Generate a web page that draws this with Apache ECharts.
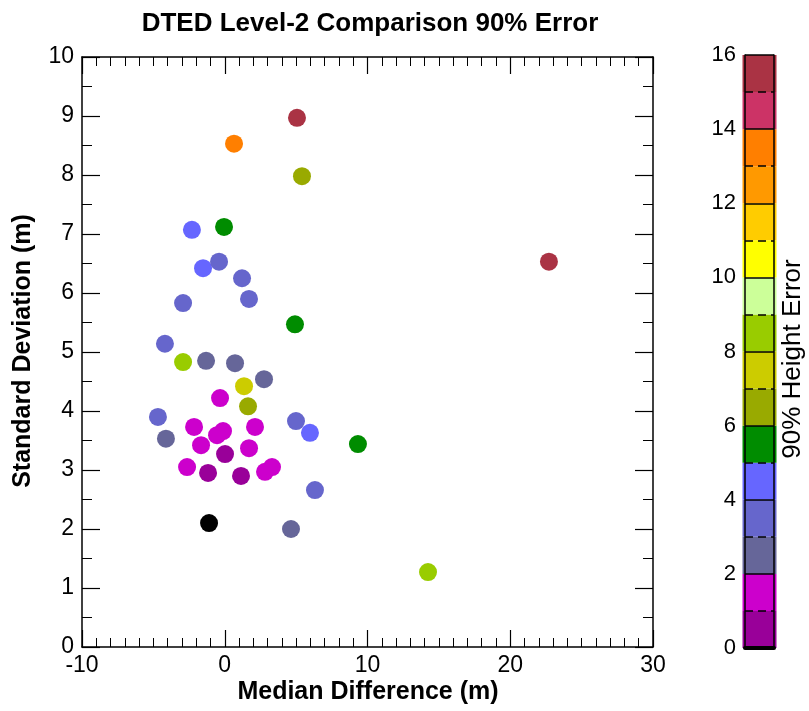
<!DOCTYPE html>
<html><head><meta charset="utf-8">
<script src="https://cdn.jsdelivr.net/npm/echarts@6/dist/echarts.min.js"></script>
<style>html,body{margin:0;padding:0;background:#fff}#c{width:809px;height:711px}</style>
</head><body><div id="c"></div>
<script>
// ---- data ----
var medianDiff = [5.06, 0.65, 5.41, -2.30, -0.05, -1.52, -0.40, 1.21, 1.70, -2.92, 4.92, -4.19, 22.71,
  -2.92, -1.31, 0.72, 1.35, 2.75, -0.33, 1.63, -4.68, -4.12, -2.15, -0.12, -0.54, 2.12, 4.99, 5.97, 9.33,
  -1.66, 0.02, 1.70, -2.64, -1.17, 1.14, 2.82, 3.31, 6.32, -1.10, 4.64, 14.24];
var stdDev = [8.97, 8.53, 7.98, 7.07, 7.12, 6.42, 6.53, 6.25, 5.90, 5.83, 5.47, 5.14, 6.53,
  4.83, 4.85, 4.81, 4.42, 4.54, 4.22, 4.08, 3.90, 3.53, 3.73, 3.66, 3.59, 3.73, 3.83, 3.63, 3.44,
  3.42, 3.27, 3.37, 3.05, 2.95, 2.90, 2.97, 3.05, 2.66, 2.10, 2.00, 1.27];
var heightErr = [15.5, 13.5, 6.5, 4.5, 5.5, 4.5, 3.5, 3.5, 3.5, 3.5, 5.5, 3.5, 15.5,
  8.5, 2.5, 2.5, 7.5, 2.5, 1.5, 6.5, 3.5, 2.5, 1.5, 1.5, 1.5, 1.5, 3.5, 4.5, 5.5,
  1.5, 0.5, 1.5, 1.5, 0.5, 0.5, 1.5, 1.5, 3.5, 0, 2.5, 8.5];
var bandColors = ['#990099', '#cc00cc', '#666699', '#6666cc', '#6666ff', '#008c00', '#99aa00', '#cccc00',
  '#99cc00', '#ccff99', '#ffff00', '#ffcc00', '#ff9900', '#ff7f00', '#cc3366', '#aa3344'];
var bandStep = [1, 1, 1, 1, 1, 1, 1, 1, 1, 1, 1, 1, 1, 1, 1, 1];
var titleText = 'DTED Level-2 Comparison 90% Error';
var xName = 'Median Difference (m)';
var yName = 'Standard Deviation (m)';
var cbName = '90% Height Error';

function colorFor(v) {
  if (v <= 0) return '#000000';
  var i = Math.min(bandColors.length - 1, Math.ceil(v) - 1);
  return bandColors[i];
}

var FONT = 'Liberation Sans, Arial, sans-serif';
var chart = echarts.init(document.getElementById('c'), null, {renderer: 'canvas'});

var pts = medianDiff.map(function (x, i) { return [x, stdDev[i], heightErr[i]]; });
var cbSeries = bandColors.map(function (c, i) {
  return {
    type: 'bar', xAxisIndex: 2, yAxisIndex: 2, stack: 'cb', barWidth: 34, clip: false,
    data: [bandStep[i]], itemStyle: {color: c}, silent: true, z: 1
  };
});

var axLine = {show: true, onZero: false, lineStyle: {color: '#000', width: 1.5}};
var lbl = {color: '#000', fontSize: 23, fontFamily: FONT};

var option = {
  animation: false,
  backgroundColor: '#fff',
  grid: [
    {left: 82, right: 156, top: 57, bottom: 64},
    {left: 745, width: 29, top: 55, bottom: 63}
  ],
  xAxis: [
    {gridIndex: 0, type: 'value', min: -10, max: 30, interval: 10, position: 'bottom',
      axisLine: axLine, axisTick: {show: true, inside: true, length: 17, lineStyle: {color: '#000', width: 1.2}},
      minorTick: {show: true, splitNumber: 10, length: 9, lineStyle: {color: '#000', width: 1}},
      axisLabel: Object.assign({margin: 7}, lbl), splitLine: {show: false}},
    {gridIndex: 0, type: 'value', min: -10, max: 30, interval: 10, position: 'top',
      axisLine: axLine, axisTick: {show: true, inside: true, length: 17, lineStyle: {color: '#000', width: 1.2}},
      minorTick: {show: true, splitNumber: 10, length: 9, lineStyle: {color: '#000', width: 1}},
      axisLabel: {show: false}, splitLine: {show: false}},
    {gridIndex: 1, type: 'category', data: ['c'], position: 'bottom', z: 5,
      axisLine: {show: true, lineStyle: {color: '#000', width: 4}}, axisTick: {show: false}, axisLabel: {show: false}},
    {gridIndex: 1, type: 'category', data: ['c'], position: 'top', z: 5,
      axisLine: {show: true, lineStyle: {color: '#000', width: 1.5}}, axisTick: {show: false}, axisLabel: {show: false}}
  ],
  yAxis: [
    {gridIndex: 0, type: 'value', min: 0, max: 10, interval: 1, position: 'left',
      axisLine: axLine, axisTick: {show: true, inside: true, length: 18, lineStyle: {color: '#000', width: 1.2}},
      minorTick: {show: true, splitNumber: 2, length: 10, lineStyle: {color: '#000', width: 1}},
      axisLabel: Object.assign({margin: 8}, lbl), splitLine: {show: false}},
    {gridIndex: 0, type: 'value', min: 0, max: 10, interval: 1, position: 'right',
      axisLine: axLine, axisTick: {show: true, inside: true, length: 18, lineStyle: {color: '#000', width: 1.2}},
      minorTick: {show: true, splitNumber: 2, length: 10, lineStyle: {color: '#000', width: 1}},
      axisLabel: {show: false}, splitLine: {show: false}},
    {gridIndex: 1, type: 'value', min: 0, max: 16, interval: 2, position: 'left', z: 5,
      axisLine: axLine, axisTick: {show: false},
      minorTick: {show: false, splitNumber: 2},
      axisLabel: Object.assign({margin: 9}, lbl, {fontSize: 22}),
      splitLine: {show: true, lineStyle: {color: '#000', width: 1.5}},
      minorSplitLine: {show: true, lineStyle: {color: '#000', width: 1.5, type: [8, 5]}}},
    {gridIndex: 1, type: 'value', min: 0, max: 16, interval: 2, position: 'right', z: 5,
      axisLine: axLine, axisTick: {show: false}, axisLabel: {show: false}, splitLine: {show: false}}
  ],
  graphic: [
    {type: 'text', x: 370, y: 24, style: {text: titleText, fontSize: 26, fontWeight: 'bold', fontFamily: FONT,
      fill: '#000', align: 'center', verticalAlign: 'middle'}},
    {type: 'text', x: 368, y: 692, style: {text: xName, fontSize: 25, fontWeight: 'bold', fontFamily: FONT,
      fill: '#000', align: 'center', verticalAlign: 'middle'}},
    {type: 'text', x: 23, y: 351, rotation: Math.PI / 2, style: {text: yName, fontSize: 25, fontWeight: 'bold', fontFamily: FONT,
      fill: '#000', align: 'center', verticalAlign: 'middle'}},
    {type: 'text', x: 793, y: 359, rotation: Math.PI / 2, style: {text: cbName, fontSize: 26, fontFamily: FONT,
      fill: '#000', align: 'center', verticalAlign: 'middle'}}
  ],
  series: [
    {type: 'scatter', xAxisIndex: 0, yAxisIndex: 0, symbol: 'circle', symbolSize: 18, data: pts,
      itemStyle: {opacity: 1, color: function (p) { return colorFor(p.value[2]); }}}
  ].concat(cbSeries)
};
chart.setOption(option);
</script></body></html>
